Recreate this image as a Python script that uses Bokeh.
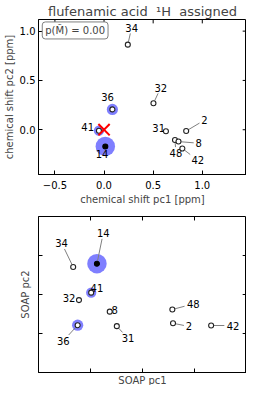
import math
from bokeh.plotting import figure
from bokeh.layouts import column
from bokeh.models import ColumnDataSource, FixedTicker, Label, Range1d, Title
from bokeh.core.properties import value
from bokeh.embed import file_html
from bokeh.resources import INLINE

# ---------------- data ----------------
atoms = ["34", "32", "36", "41", "14", "31", "2", "48", "8", "42"]
cs_pc1 = [0.242, 0.503, 0.085, -0.052, 0.013, 0.630, 0.836, 0.722, 0.758, 0.797]
cs_pc2 = [0.863, 0.268, 0.206, -0.010, -0.170, -0.016, -0.013, -0.104, -0.120, -0.190]
cs_lab_x = [0.281, 0.578, 0.036, -0.167, -0.020, 0.556, 1.023, 0.732, 0.964, 0.954]
cs_lab_y = [1.036, 0.428, 0.333, 0.026, -0.251, 0.020, 0.098, -0.235, -0.137, -0.310]
cs_leader = [True, True, False, False, False, False, True, True, True, True]

soap_pc1 = [0.667, 0.778, 0.753, 1.013, 1.124, 1.506, 2.587, 2.574, 1.370, 3.320]
soap_pc2 = [2.705, 1.856, 1.213, 2.047, 2.790, 1.188, 1.262, 1.616, 1.560, 1.205]
soap_lab_x = [0.444, 0.587, 0.476, 1.124, 1.246, 1.722, 2.894, 2.976, 1.463, 3.741]
soap_lab_y = [3.320, 1.906, 0.809, 2.170, 3.580, 0.874, 1.181, 1.757, 1.609, 1.205]
soap_leader = [True, False, True, False, True, True, True, True, False, True]

assign_prob = [0.0, 0.0, 0.30, 0.25, 0.90, 0.0, 0.0, 0.0, 0.0, 0.0]
observed = [False, False, False, False, True, False, False, False, False, False]
ref_point_x = [0.0]
ref_point_y = [0.0]
cs_xticks = [-0.5, 0.0, 0.5, 1.0]
cs_xtick_labels = ["\u22120.5", "0.0", "0.5", "1.0"]
cs_yticks = [0.0, 0.5, 1.0]
cs_ytick_labels = ["0.0", "0.5", "1.0"]
soap_ticks = [1, 2, 3]
p_text = "p(M\u0303) = 0.00"
title_text = "flufenamic acid\u00a0 \u00b9H\u00a0 assigned"

FONT = "DejaVu Sans"
W = 246
BL, BR = 28, 0
FRAME_W = W - BL - BR
TICK = 4


def blank(ticks):
    return {t: "" for t in ticks}


def style_axes(p, xticks, yticks, xr, yr, sx, sy, xlabels=None, ylabels=None):
    for ax in p.xaxis + p.yaxis:
        ax.major_tick_in = TICK
        ax.major_tick_out = 0
        ax.minor_tick_line_color = None
        ax.major_label_text_font = FONT
        ax.major_label_text_font_size = "10px"
        ax.major_label_text_color = "black"
        ax.axis_label_text_font = FONT
        ax.axis_label_text_font_size = "10px"
        ax.axis_label_text_font_style = "normal"
        ax.axis_line_color = "black"
        ax.major_tick_line_color = "black"
        ax.major_label_standoff = 3
        ax.axis_label_standoff = 2
    p.xaxis.ticker = FixedTicker(ticks=xticks)
    p.yaxis.ticker = FixedTicker(ticks=yticks)
    if xlabels is None:
        p.xaxis.major_label_overrides = blank(xticks)
        p.xaxis.major_label_text_font_size = "1px"
        p.xaxis.major_label_standoff = 0
        p.xaxis.axis_label_standoff = 0
    else:
        p.xaxis.major_label_overrides = dict(zip(xticks, xlabels))
        p.xaxis.major_label_standoff = 6
    if ylabels is None:
        p.yaxis.major_label_overrides = blank(yticks)
        p.yaxis.major_label_text_font_size = "1px"
        p.yaxis.major_label_standoff = 0
        p.yaxis.axis_label_standoff = 8
    else:
        p.yaxis.major_label_overrides = dict(zip(yticks, ylabels))
    # mirrored ticks on top and right, drawn inside the frame
    nx, ny = len(xticks), len(yticks)
    p.segment(xticks, [yr[1]] * nx, xticks, [yr[1] - TICK / sy] * nx, line_color="black", line_width=1)
    p.segment([xr[1]] * ny, yticks, [xr[1] - TICK / sx] * ny, yticks, line_color="black", line_width=1)
    p.grid.visible = False
    p.outline_line_color = "black"


def draw_points(p, xs, ys, lx, ly, leaders, sx, sy):
    # halos
    hx = [x for x, pr in zip(xs, assign_prob) if pr > 0]
    hy = [y for y, pr in zip(ys, assign_prob) if pr > 0]
    hs = [20.5 * math.sqrt(pr) for pr in assign_prob if pr > 0]
    p.scatter(hx, hy, size=hs, fill_color="#7f7fff", line_color=None)
    # leader lines (computed in pixel space)
    x0s, y0s, x1s, y1s = [], [], [], []
    for x, y, tx, ty, a, lead in zip(xs, ys, lx, ly, atoms, leaders):
        if not lead:
            continue
        dxp = (tx - x) * sx
        dyp = (ty - y) * sy
        d = math.hypot(dxp, dyp)
        ux, uy = dxp / d, dyp / d
        hw = 3.8 * len(a) + 1.5
        hh = 6.0
        g = min(hw / max(abs(ux), 1e-6), hh / max(abs(uy), 1e-6))
        s0 = 3.0
        x0s.append(x + ux * s0 / sx)
        y0s.append(y + uy * s0 / sy)
        x1s.append(tx - ux * g / sx)
        y1s.append(ty - uy * g / sy)
    p.segment(x0s, y0s, x1s, y1s, line_color="#808080", line_width=1)
    # labels
    src = ColumnDataSource(dict(x=lx, y=ly, t=atoms))
    p.text("x", "y", text="t", source=src, text_font=value(FONT), text_font_size="10px",
           text_align="center", text_baseline="middle", text_color="black")
    # markers
    ox = [x for x, o in zip(xs, observed) if not o]
    oy = [y for y, o in zip(ys, observed) if not o]
    p.scatter(ox, oy, size=5, fill_color="white", line_color="#222222", line_width=1.1)
    fx = [x for x, o in zip(xs, observed) if o]
    fy = [y for y, o in zip(ys, observed) if o]
    p.scatter(fx, fy, size=5, fill_color="black", line_color="black", line_width=1.1)


# ---------------- top panel ----------------
x1r = (-0.667, 1.45)
y1r = (-0.454, 1.118)
p1 = figure(width=W, height=207, output_backend="svg", toolbar_location=None,
            x_range=Range1d(*x1r), y_range=Range1d(*y1r),
            min_border_left=BL, min_border_right=BR, min_border_top=14, min_border_bottom=30,
            title=title_text)
p1.title.text_font = FONT
p1.title.text_font_size = "13px"
p1.title.text_font_style = "normal"
p1.title.align = "center"
p1.title.standoff = 2
p1.xaxis.axis_label = "chemical shift pc1 [ppm]"
p1.yaxis.axis_label = "chemical shift pc2 [ppm]"
sx1 = FRAME_W / (x1r[1] - x1r[0])
sy1 = 160 / (y1r[1] - y1r[0])
style_axes(p1, cs_xticks, cs_yticks, x1r, y1r, sx1, sy1, cs_xtick_labels, cs_ytick_labels)
draw_points(p1, cs_pc1, cs_pc2, cs_lab_x, cs_lab_y, cs_leader, sx1, sy1)
p1.scatter(ref_point_x, ref_point_y, marker="x", size=16, line_color="red", line_width=2)
p1.add_layout(Label(x=-0.294, y=1.007, text=p_text, text_font=FONT, text_font_size="10px",
                    text_align="center", text_baseline="middle",
                    background_fill_color="white", border_line_color="#808080",
                    padding=3, border_radius=3))

# ---------------- bottom panel ----------------
x2r = (0.0, 4.0)
y2r = (0.0, 4.0)
p2 = figure(width=W, height=178, output_backend="svg", toolbar_location=None,
            x_range=Range1d(*x2r), y_range=Range1d(*y2r),
            min_border_left=BL, min_border_right=BR, min_border_top=9, min_border_bottom=0)
p2.yaxis.axis_label = "SOAP pc2"
sx2 = FRAME_W / 4
sy2 = 157 / 4
style_axes(p2, soap_ticks, soap_ticks, x2r, y2r, sx2, sy2)
p2.add_layout(Title(text="SOAP pc1", align="center", text_font=FONT, text_font_size="10px",
                    text_font_style="normal", standoff=0), "below")
draw_points(p2, soap_pc1, soap_pc2, soap_lab_x, soap_lab_y, soap_leader, sx2, sy2)

layout = column(p1, p2, spacing=0)
open("out.html", "w").write(file_html(layout, INLINE))
